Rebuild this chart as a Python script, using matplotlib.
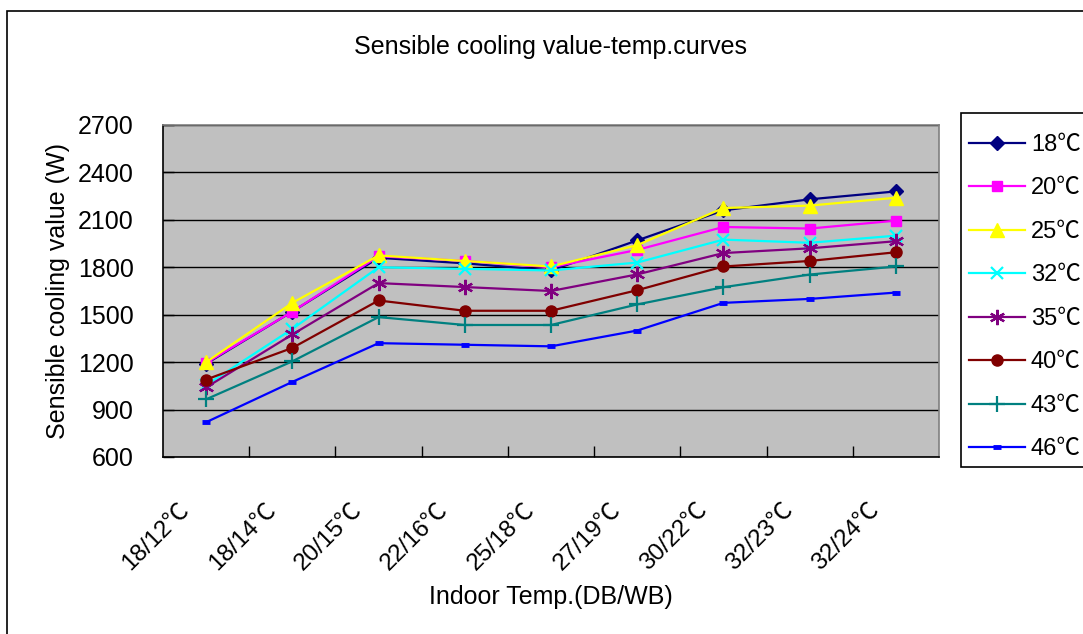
import matplotlib
matplotlib.use("Agg")
import matplotlib.pyplot as plt
from matplotlib.patches import Rectangle
from matplotlib.transforms import ScaledTranslation

plt.rcParams['font.family'] = ['Liberation Sans', 'Noto Sans CJK SC', 'DejaVu Sans']

categories = ["18/12℃", "18/14℃", "20/15℃", "22/16℃", "25/18℃",
              "27/19℃", "30/22℃", "32/23℃", "32/24℃"]
series_labels = ["18℃", "20℃", "25℃", "32℃", "35℃", "40℃", "43℃", "46℃"]

s18 = [1190, 1520, 1860, 1825, 1780, 1970, 2160, 2230, 2280]
s20 = [1195, 1520, 1870, 1840, 1800, 1910, 2055, 2045, 2095]
s25 = [1200, 1575, 1875, 1840, 1805, 1940, 2175, 2190, 2240]
s32 = [1055, 1410, 1800, 1790, 1780, 1830, 1975, 1955, 2000]
s35 = [1040, 1375, 1700, 1675, 1650, 1755, 1890, 1920, 1965]
s40 = [1090, 1290, 1590, 1525, 1525, 1655, 1805, 1840, 1895]
s43 = [965, 1205, 1485, 1435, 1435, 1565, 1674, 1754, 1805]
s46 = [820, 1075, 1320, 1310, 1300, 1400, 1575, 1600, 1640]

y_ticks = [600, 900, 1200, 1500, 1800, 2100, 2400, 2700]

all_series = [s18, s20, s25, s32, s35, s40, s43, s46]
colors = ["#000080", "#FF00FF", "#FFFF00", "#00FFFF", "#800080", "#800000", "#008080", "#0000FF"]
markers = ["D", "s", "^", "x", (6, 2, 0), "o", "+", "_"]
msizes = [7, 7, 10, 9, 11, 8, 11, 6]
mews = [1, 1, 1, 1.6, 1.6, 1, 1.6, 3.5]

W, H = 1083, 634
fig = plt.figure(figsize=(W / 100, H / 100), dpi=100)
fig.patch.set_facecolor("white")

ax = fig.add_axes([163 / W, 1 - 457 / H, (939 - 163) / W, (457 - 125) / H])
ax.set_facecolor("#C0C0C0")

x = list(range(len(categories)))
handles = []
for vals, c, m, ms, mew, lab in zip(all_series, colors, markers, msizes, mews, series_labels):
    h, = ax.plot(x, vals, color=c, lw=1.6, marker=m, markersize=ms,
                 markerfacecolor=c, markeredgecolor=c, markeredgewidth=mew,
                 label=lab, clip_on=False)
    handles.append(h)

ax.set_xlim(-0.5, len(categories) - 0.5)
ax.set_ylim(600, 2700)
ax.set_yticks(y_ticks)
ax.set_yticklabels([str(v) for v in y_ticks], fontsize=18)
ax.yaxis.grid(True, color="black", lw=1)
ax.set_axisbelow(True)

ax.set_xticks([i + 0.5 for i in range(len(categories) - 1)])
ax.set_xticklabels([])
ax.set_xticks(x, minor=True)
ax.set_xticklabels(categories, minor=True, rotation=45, ha="right", va="top", fontsize=17.5)
ax.tick_params(axis="x", which="major", direction="in", length=8, width=1, color="black")
ax.tick_params(axis="x", which="minor", length=0, pad=30)
ax.tick_params(axis="y", direction="in", length=8, width=1, pad=21, color="black")
off = ScaledTranslation(-12 / 100, 0, fig.dpi_scale_trans)
for lbl in ax.get_xticklabels(minor=True):
    lbl.set_transform(lbl.get_transform() + off)

for side in ["top", "right"]:
    ax.spines[side].set_color("#808080")
    ax.spines[side].set_linewidth(1.2)
for side in ["left", "bottom"]:
    ax.spines[side].set_color("black")
    ax.spines[side].set_linewidth(1.2)

fig.text(551 / W, 1 - 47 / H, "Sensible cooling value-temp.curves",
         ha="center", va="center", fontsize=18)
fig.text(58 / W, 1 - 291 / H, "Sensible cooling value (W)", rotation=90,
         ha="center", va="center", fontsize=18)
fig.text(551 / W, 1 - 597 / H, "Indoor Temp.(DB/WB)", ha="center", va="center", fontsize=18)

# legend frame
fig.add_artist(Rectangle((961 / W, 1 - 467 / H), 0.2, (467 - 113) / H,
                         transform=fig.transFigure, facecolor="white",
                         edgecolor="black", lw=1.2, clip_on=False, zorder=1))
leg = fig.legend(handles=handles, loc="upper left",
                 bbox_to_anchor=(969 / W, 1 - 134 / H), fontsize=17,
                 frameon=False, handlelength=2.37, handletextpad=0.25,
                 labelspacing=0.91, borderpad=0, borderaxespad=0)
leg.set_zorder(2)

border = Rectangle((7 / W, -0.1), 1.2, 1 - 11 / H + 0.1, transform=fig.transFigure,
                   fill=False, edgecolor="black", lw=1.2, clip_on=False)
fig.add_artist(border)

fig.savefig("out.png", dpi=100)
